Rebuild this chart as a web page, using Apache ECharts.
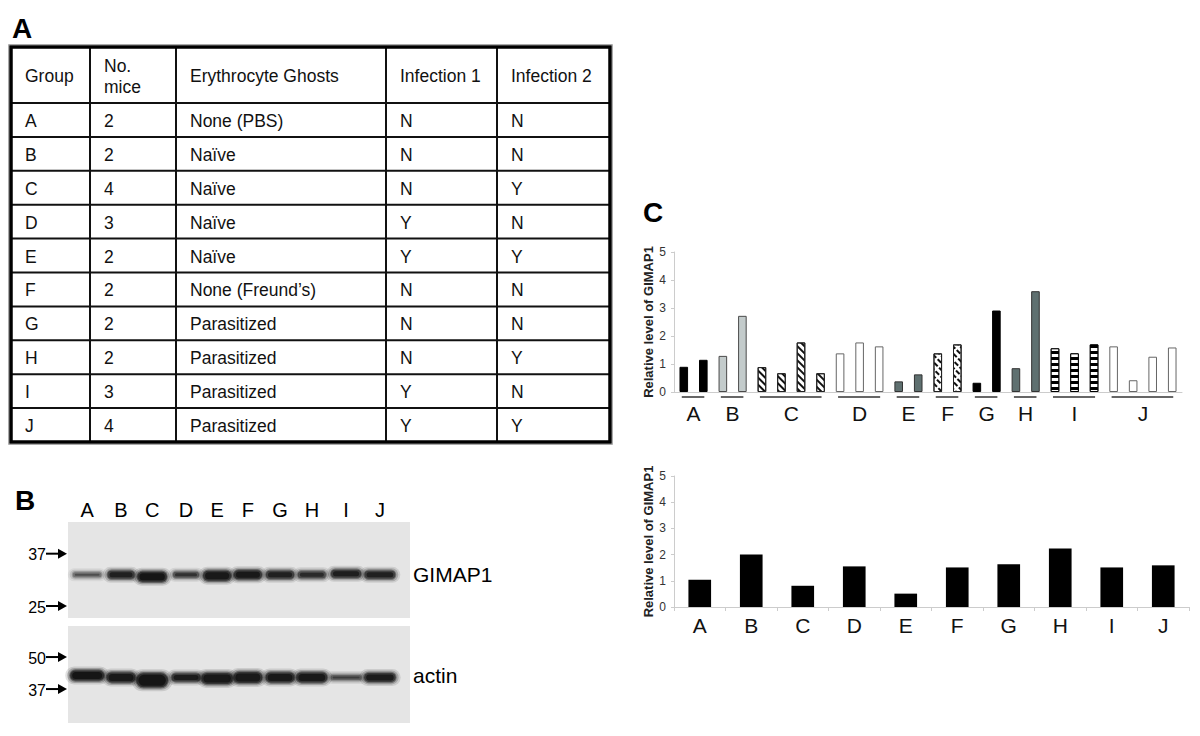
<!DOCTYPE html>
<html>
<head>
<meta charset="utf-8">
<title>GIMAP1</title>
<script src="https://cdn.jsdelivr.net/npm/echarts@6/dist/echarts.min.js"></script>
<style>
    html, body { margin: 0; padding: 0; background: #fff; }
    #chart { width: 1200px; height: 736px; }
</style>
</head>
<body>
<div id="chart"></div>
<script>
// ---- data ----
let groups = ['A', 'B', 'C', 'D', 'E', 'F', 'G', 'H', 'I', 'J'];
let tableHeader = ['Group', 'No.\nmice', 'Erythrocyte Ghosts', 'Infection 1', 'Infection 2'];
let miceCount = ['2', '2', '4', '3', '2', '2', '2', '2', '3', '4'];
let ghosts = ['None (PBS)', 'Naïve', 'Naïve', 'Naïve', 'Naïve', 'None (Freund’s)',
    'Parasitized', 'Parasitized', 'Parasitized', 'Parasitized'];
let infection1 = ['N', 'N', 'N', 'Y', 'Y', 'N', 'N', 'N', 'Y', 'Y'];
let infection2 = ['N', 'N', 'Y', 'N', 'Y', 'N', 'N', 'Y', 'N', 'Y'];

// panel C, one bar per mouse
let mouseGroup = ['A', 'A', 'B', 'B', 'C', 'C', 'C', 'C', 'D', 'D', 'D', 'E', 'E',
    'F', 'F', 'G', 'G', 'H', 'H', 'I', 'I', 'I', 'J', 'J', 'J', 'J'];
let mouseLevel = [0.90, 1.15, 1.29, 2.72, 0.89, 0.67, 1.77, 0.67, 1.38, 1.77, 1.63, 0.38, 0.63,
    1.38, 1.70, 0.33, 2.91, 0.85, 3.60, 1.56, 1.38, 1.70, 1.63, 0.42, 1.26, 1.59];
// panel C, pooled per group
let pooledLevel = [1.04, 2.00, 0.81, 1.55, 0.51, 1.51, 1.63, 2.23, 1.51, 1.59];

// panel B blot, lane centre as % of gel width
let lanePos = [5.6, 15.5, 24.6, 34.5, 43.6, 52.6, 62.0, 71.3, 81.3, 91.2];
let gimapDepth = [55, 55, 57, 55, 56, 55, 55, 55, 54, 55];      // % of panel height
let gimapWidth = [9.0, 8.5, 9.2, 8.2, 8.8, 8.8, 8.8, 8.8, 9.4, 9.6];
let gimapThick = [6, 9, 11, 7, 11, 10, 9, 8, 9, 9];
let gimapDark = [0.5, 0.85, 1.0, 0.7, 0.95, 0.95, 0.85, 0.75, 0.88, 0.85];
let actinDepth = [51, 53, 56, 53, 54, 53, 53, 53, 53, 53];
let actinWidth = [10.5, 9.0, 9.8, 9.0, 9.8, 9.0, 9.0, 9.6, 9.6, 9.8];
let actinThick = [11, 11, 15, 9, 12, 12, 11, 11, 6, 10];
let actinDark = [1.0, 0.95, 1.0, 0.9, 0.95, 0.95, 0.95, 0.95, 0.6, 0.9];
let gimapMarkers = ['37', '25'];
let gimapMarkerDepth = [33, 87.5];
let actinMarkers = ['50', '37'];
let actinMarkerDepth = [32, 65];

let fontName = '"Liberation Sans", Arial, sans-serif';

let hatch = {symbol: 'rect', symbolSize: 1, dashArrayX: [1, 0], dashArrayY: [1.5, 2.5],
    rotation: Math.PI / 4, color: '#111', backgroundColor: '#fff'};
let dashHatch = {symbol: 'rect', symbolSize: 1, dashArrayX: [5, 1.5], dashArrayY: [1.2, 2.3],
    rotation: Math.PI / 4, color: '#111', backgroundColor: '#fff'};
let stripes = {symbol: 'rect', symbolSize: 1, dashArrayX: [1, 0], dashArrayY: [2.5, 2.5],
    rotation: 0, color: '#fff', backgroundColor: '#000'};

let groupStyle = {
    A: {color: '#000', borderColor: '#000', borderWidth: 1},
    B: {color: '#c3cbcb', borderColor: '#4a4a4a', borderWidth: 1},
    C: {color: '#fff', borderColor: '#222', borderWidth: 1, decal: hatch},
    D: {color: '#fff', borderColor: '#666', borderWidth: 1},
    E: {color: '#5f7070', borderColor: '#333', borderWidth: 1},
    F: {color: '#fff', borderColor: '#222', borderWidth: 1, decal: dashHatch},
    G: {color: '#000', borderColor: '#000', borderWidth: 1},
    H: {color: '#5f7070', borderColor: '#333', borderWidth: 1},
    I: {color: '#000', borderColor: '#000', borderWidth: 1, decal: stripes},
    J: {color: '#fff', borderColor: '#666', borderWidth: 1}
};

let chart = echarts.init(document.getElementById('chart'), null, {renderer: 'svg', width: 1200, height: 736});

// ---- panel A table ----
function buildTable() {
    let colX = [11, 90, 176, 386, 497, 610];
    let top = 47, headH = 56, rowH = 33.9;
    let bottom = top + headH + rowH * groups.length;
    let els = [];
    let rows = [tableHeader];
    for (let i = 0; i < groups.length; i++) {
        rows.push([groups[i], miceCount[i], ghosts[i], infection1[i], infection2[i]]);
    }
    // inner lines
    for (let c = 1; c < colX.length - 1; c++) {
        els.push({type: 'line', shape: {x1: colX[c], y1: top, x2: colX[c], y2: bottom},
            style: {stroke: '#111', lineWidth: 2}});
    }
    for (let r = 0; r < groups.length; r++) {
        let y = top + headH + rowH * r;
        els.push({type: 'line', shape: {x1: colX[0], y1: y, x2: colX[5], y2: y},
            style: {stroke: '#111', lineWidth: 2}});
    }
    // outer frame
    els.push({type: 'rect', shape: {x: colX[0] - 2.5, y: top - 2.5, width: colX[5] - colX[0] + 5, height: bottom - top + 5},
        style: {fill: null, stroke: '#aaa', lineWidth: 1}});
    els.push({type: 'rect', shape: {x: colX[0], y: top, width: colX[5] - colX[0], height: bottom - top},
        style: {fill: null, stroke: '#000', lineWidth: 3.5}});
    for (let r = 0; r < rows.length; r++) {
        let cy = r === 0 ? top + headH / 2 : top + headH + rowH * (r - 0.5);
        for (let c = 0; c < 5; c++) {
            els.push({type: 'text', x: colX[c] + 14, y: cy + 1,
                style: {text: rows[r][c], fill: '#111', font: '17.5px ' + fontName,
                    verticalAlign: 'middle', align: 'left', lineHeight: 21}});
        }
    }
    return els;
}

function panelLetter(ch, x, y) {
    return {type: 'text', x: x, y: y, style: {text: ch, fill: '#000',
        font: 'bold 28px ' + fontName, verticalAlign: 'top'}};
}

// ---- blot renderers ----
function bandItem(pos, depth, width, thick, dark) {
    let data = [];
    for (let i = 0; i < pos.length; i++) {
        data.push([pos[i], depth[i], width[i], thick[i], dark[i]]);
    }
    return data;
}

// a soft band: stacked translucent capsules, wide and faint outside, dark in the core
function renderBand(params, api) {
    let c = api.coord([api.value(0), api.value(1)]);
    let w = api.size([api.value(2), 0])[0];
    let h = api.value(3);
    let a = api.value(4);
    let layers = [[4, 7, 0.12], [2, 4, 0.22], [0, 1.5, 0.4], [-1, -1, 0.55], [-3, -4, 0.7]];
    let children = [];
    for (let k = 0; k < layers.length; k++) {
        let lw = w + layers[k][0] * 2;
        let lh = Math.max(2, h + layers[k][1]);
        children.push({type: 'rect',
            shape: {x: c[0] - lw / 2, y: c[1] - lh / 2, width: lw, height: lh, r: lh / 2},
            style: {fill: 'rgba(10,10,10,' + (a * layers[k][2]) + ')'}});
    }
    return {type: 'group', children: children};
}

function renderMarker(params, api) {
    let c = api.coord([0, api.value(0)]);
    let txt = params.seriesName === 'gimapMarkers' ? gimapMarkers[params.dataIndex] : actinMarkers[params.dataIndex];
    let x0 = c[0] - 22;
    return {type: 'group', children: [
        {type: 'text', x: x0, y: c[1] + 1, style: {text: txt, fill: '#000', font: '16px ' + fontName,
            align: 'right', verticalAlign: 'middle'}},
        {type: 'line', shape: {x1: x0, y1: c[1], x2: c[0] - 8, y2: c[1]}, style: {stroke: '#000', lineWidth: 2}},
        {type: 'polygon', shape: {points: [[c[0] - 10, c[1] - 5], [c[0] - 1, c[1]], [c[0] - 10, c[1] + 5]]},
            style: {fill: '#000'}}
    ]};
}

function renderLane(params, api) {
    let c = api.coord([api.value(0), 0]);
    return {type: 'text', x: c[0], y: c[1] - 12, style: {text: groups[params.dataIndex], fill: '#000',
        font: '20px ' + fontName, align: 'center', verticalAlign: 'middle'}};
}

// ---- panel C group underlines ----
let groupSpans = [];
for (let g = 0; g < groups.length; g++) {
    let first = mouseGroup.indexOf(groups[g]);
    let last = mouseGroup.lastIndexOf(groups[g]);
    groupSpans.push([first, last, 0]);
}

function renderSpan(params, api) {
    let p1 = api.coord([api.value(0), 0]);
    let p2 = api.coord([api.value(1), 0]);
    let y = p1[1] + 5;
    return {type: 'group', children: [
        {type: 'line', shape: {x1: p1[0] - 2, y1: y, x2: p2[0] + 1, y2: y}, style: {stroke: '#333', lineWidth: 1.5}},
        {type: 'text', x: (p1[0] + p2[0]) / 2, y: p1[1] + 21, style: {text: groups[params.dataIndex],
            fill: '#111', font: '21px ' + fontName, align: 'center', verticalAlign: 'middle'}}
    ]};
}

let mouseData = mouseLevel.map(function (v, i) {
    return {value: v, itemStyle: groupStyle[mouseGroup[i]]};
});

function valueAxis(gridIndex) {
    return {
        type: 'value', gridIndex: gridIndex, min: 0, max: 5, interval: 1,
        name: 'Relative level of GIMAP1', nameLocation: 'middle', nameGap: 19,
        nameTextStyle: {fontFamily: fontName, fontWeight: 'bold', fontSize: 13, color: '#222'},
        axisLine: {show: true, lineStyle: {color: '#ccc'}},
        axisTick: {show: true, length: 3, lineStyle: {color: '#ccc'}},
        axisLabel: {fontFamily: fontName, fontSize: 12, color: '#333', margin: 8},
        splitLine: {show: false}
    };
}

function hiddenAxis(gridIndex, inverse) {
    return {type: 'value', gridIndex: gridIndex, min: 0, max: 100, inverse: !!inverse, show: false};
}

let option = {
    backgroundColor: '#fff',
    animation: false,
    grid: [
        {left: 674, top: 252, width: 508, height: 140, outerBoundsMode: 'none'},
        {left: 674, top: 476, width: 515, height: 131, outerBoundsMode: 'none'},
        {left: 68, top: 522, width: 342, height: 96, show: true, backgroundColor: '#e5e5e5', borderWidth: 0, outerBoundsMode: 'none'},
        {left: 68, top: 626, width: 342, height: 97, show: true, backgroundColor: '#e5e5e5', borderWidth: 0, outerBoundsMode: 'none'}
    ],
    xAxis: [
        {type: 'category', gridIndex: 0, data: mouseGroup,
            axisLine: {lineStyle: {color: '#ccc'}}, axisTick: {show: false}, axisLabel: {show: false}},
        {type: 'category', gridIndex: 1, data: groups,
            axisLine: {lineStyle: {color: '#ccc'}}, axisTick: {show: true, length: 4, lineStyle: {color: '#ccc'}},
            axisLabel: {fontFamily: fontName, fontSize: 21, color: '#111', margin: 8}},
        hiddenAxis(2),
        hiddenAxis(3)
    ],
    yAxis: [valueAxis(0), valueAxis(1), hiddenAxis(2, true), hiddenAxis(3, true)],
    series: [
        {type: 'bar', xAxisIndex: 0, yAxisIndex: 0, barWidth: '44%', data: mouseData},
        {type: 'custom', xAxisIndex: 0, yAxisIndex: 0, renderItem: renderSpan, data: groupSpans,
            encode: {x: [0, 1], y: 2}, clip: false, silent: true},
        {type: 'bar', xAxisIndex: 1, yAxisIndex: 1, barWidth: '44%', data: pooledLevel,
            itemStyle: {color: '#000'}},
        {type: 'custom', xAxisIndex: 2, yAxisIndex: 2, renderItem: renderBand,
            data: bandItem(lanePos, gimapDepth, gimapWidth, gimapThick, gimapDark), silent: true},
        {type: 'custom', xAxisIndex: 3, yAxisIndex: 3, renderItem: renderBand,
            data: bandItem(lanePos, actinDepth, actinWidth, actinThick, actinDark), silent: true},
        {type: 'custom', name: 'gimapMarkers', xAxisIndex: 2, yAxisIndex: 2, renderItem: renderMarker,
            data: gimapMarkerDepth.map(function (d) { return [d]; }), encode: {y: 0}, clip: false, silent: true},
        {type: 'custom', name: 'actinMarkers', xAxisIndex: 3, yAxisIndex: 3, renderItem: renderMarker,
            data: actinMarkerDepth.map(function (d) { return [d]; }), encode: {y: 0}, clip: false, silent: true},
        {type: 'custom', xAxisIndex: 2, yAxisIndex: 2, renderItem: renderLane,
            data: lanePos.map(function (p) { return [p]; }), encode: {x: 0}, clip: false, silent: true}
    ],
    graphic: buildTable().concat([
        panelLetter('A', 12, 14),
        panelLetter('B', 15, 486),
        panelLetter('C', 643, 198),
        {type: 'text', x: 413, y: 574, style: {text: 'GIMAP1', fill: '#000', font: '21px ' + fontName, verticalAlign: 'middle'}},
        {type: 'text', x: 413, y: 675, style: {text: 'actin', fill: '#000', font: '21px ' + fontName, verticalAlign: 'middle'}}
    ])
};

chart.setOption(option);
</script>
</body>
</html>
